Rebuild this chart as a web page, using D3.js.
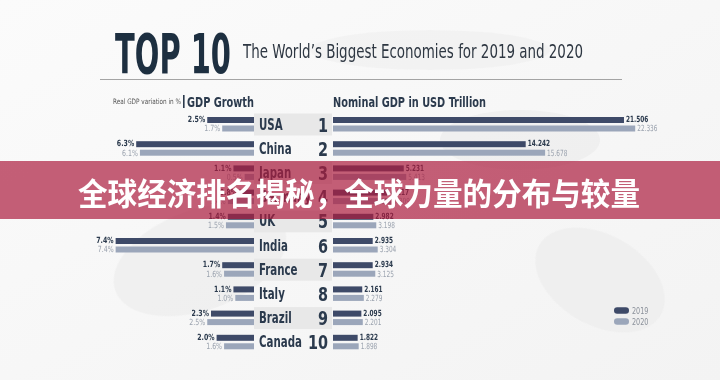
<!DOCTYPE html>
<html>
<head>
<meta charset="utf-8">
<script src="https://cdn.jsdelivr.net/npm/d3@7"></script>
<style>
  html, body { margin: 0; padding: 0; background: #fff; }
  svg { display: block; }
  .cond { font-family: 'Liberation Sans Narrow', 'DejaVu Sans Condensed', 'Roboto', sans-serif; font-stretch: condensed; }
</style>
</head>
<body>
<svg id="chart" width="720" height="380"></svg>
<script>
// data (Germany row is hidden under the banner, estimated)
const countries = ["USA", "China", "Japan", "Germany", "UK", "India", "France", "Italy", "Brazil", "Canada"];
const ranks = ["1", "2", "3", "4", "5", "6", "7", "8", "9", "10"];
const growth2019 = [2.5, 6.3, 1.1, 0.8, 1.4, 7.4, 1.7, 1.1, 2.3, 2.0];
const growth2020 = [1.7, 6.1, 0.5, 1.4, 1.5, 7.4, 1.6, 1.0, 2.5, 1.6];
const gdp2019 = [21.506, 14.242, 5.231, 4.117, 2.982, 2.935, 2.934, 2.161, 2.095, 1.822];
const gdp2020 = [22.336, 15.678, 5.413, 4.309, 3.198, 3.304, 3.125, 2.279, 2.201, 1.898];
const years = ["2019", "2020"];
const bannerText = "全球经济排名揭秘，全球力量的分布与较量";

const c2019 = "#3e4a68", c2020 = "#9ba6ba";

const svg = d3.select("#chart");

// the fonts here are wider than the original, squeeze text sideways
function squeeze(x, y, sx) {
    return (d, i) => `translate(${x(d, i)},${y(d, i)}) scale(${sx},1)`;
}

// background + faint map shapes
const bg = svg.append("defs").append("linearGradient").attr("id", "bg")
    .attr("x1", 0).attr("y1", 0).attr("x2", 1).attr("y2", 1);
bg.append("stop").attr("offset", "0%").attr("stop-color", "#fbfbfb");
bg.append("stop").attr("offset", "100%").attr("stop-color", "#f3f3f3");
svg.append("rect").attr("width", 720).attr("height", 380).attr("fill", "url(#bg)");

const blobs = svg.append("g").attr("fill", "#ebebeb").attr("opacity", 0.6);
blobs.append("ellipse").attr("cx", 200).attr("cy", 260).attr("rx", 90).attr("ry", 50).attr("transform", "rotate(-20 200 260)");
blobs.append("ellipse").attr("cx", 600).attr("cy", 280).attr("rx", 70).attr("ry", 45).attr("transform", "rotate(30 600 280)");
blobs.append("ellipse").attr("cx", 520).attr("cy", 140).attr("rx", 80).attr("ry", 30);
blobs.append("ellipse").attr("cx", 430).attr("cy", 50).attr("rx", 120).attr("ry", 20).attr("opacity", 0.6);

// title
svg.append("text").attr("class", "cond")
    .attr("x", 115).attr("y", 73)
    .attr("font-size", 55).attr("font-weight", 700)
    .attr("fill", "#1d2f40")
    .attr("textLength", 116).attr("lengthAdjust", "spacingAndGlyphs")
    .text("TOP 10");
svg.append("text").attr("class", "cond")
    .attr("x", 243).attr("y", 58)
    .attr("font-size", 19).attr("fill", "#2e3742")
    .attr("textLength", 340).attr("lengthAdjust", "spacingAndGlyphs")
    .text("The World’s Biggest Economies for 2019 and 2020");
svg.append("line")
    .attr("x1", 100).attr("x2", 622).attr("y1", 79.5).attr("y2", 79.5)
    .attr("stroke", "#a4a4a4").attr("stroke-width", 1);

// scales
const y = d3.scaleBand().domain(countries).range([112.4, 354.4]);
const xg = d3.scaleLinear().domain([0, 8]).range([254, 254 - 8 * 18.7]);
const xn = d3.scaleLinear().domain([0, 25]).range([333, 333 + 25 * 13.53]);
const mid = c => y(c) + y.bandwidth() / 2;

// headers
svg.append("text").attr("class", "cond")
    .attr("x", 113).attr("y", 104).attr("font-size", 7.5).attr("fill", "#555")
    .attr("textLength", 68).attr("lengthAdjust", "spacingAndGlyphs")
    .text("Real GDP variation in %");
svg.append("rect").attr("x", 183).attr("y", 95).attr("width", 1.6).attr("height", 13).attr("fill", "#2b3a4d");
svg.append("text").attr("class", "cond")
    .attr("x", 187).attr("y", 107).attr("font-size", 14).attr("font-weight", 700).attr("fill", "#2b3a4d")
    .attr("textLength", 67).attr("lengthAdjust", "spacingAndGlyphs")
    .text("GDP Growth");
svg.append("text").attr("class", "cond")
    .attr("x", 333).attr("y", 107).attr("font-size", 14).attr("font-weight", 700).attr("fill", "#2b3a4d")
    .attr("textLength", 153).attr("lengthAdjust", "spacingAndGlyphs")
    .text("Nominal GDP in USD Trillion");

// alternating label bands
svg.append("g").selectAll("rect")
    .data(countries.filter((d, i) => i % 2 === 0))
    .join("rect")
    .attr("x", 254).attr("y", d => mid(d) - 11)
    .attr("width", 78).attr("height", 22)
    .attr("fill", "#e8e8e8");

const rows = svg.append("g").selectAll("g")
    .data(countries)
    .join("g");

// growth bars (grow leftwards)
rows.append("rect")
    .attr("x", (d, i) => xg(growth2019[i])).attr("y", d => mid(d) - 7.5)
    .attr("width", (d, i) => xg(0) - xg(growth2019[i])).attr("height", 6)
    .attr("fill", c2019);
rows.append("rect")
    .attr("x", (d, i) => xg(growth2020[i])).attr("y", d => mid(d) + 1)
    .attr("width", (d, i) => xg(0) - xg(growth2020[i])).attr("height", 6)
    .attr("fill", c2020);
rows.append("text").attr("class", "cond")
    .attr("transform", squeeze((d, i) => xg(growth2019[i]) - 2, d => mid(d) - 2.3, 0.82))
    .attr("text-anchor", "end").attr("font-size", 8.5).attr("font-weight", 700).attr("fill", "#2b3a4d")
    .text((d, i) => growth2019[i].toFixed(1) + "%");
rows.append("text").attr("class", "cond")
    .attr("transform", squeeze((d, i) => xg(growth2020[i]) - 2, d => mid(d) + 6.8, 0.82))
    .attr("text-anchor", "end").attr("font-size", 8.5).attr("fill", "#9aa2ae")
    .text((d, i) => growth2020[i].toFixed(1) + "%");

// country names and ranks
rows.append("text").attr("class", "cond")
    .attr("transform", squeeze(() => 259, d => mid(d) + 5, 0.76))
    .attr("font-size", 15).attr("font-weight", 700).attr("fill", "#2b3a4d")
    .text(d => d);
rows.append("text").attr("class", "cond")
    .attr("transform", squeeze(() => 328, d => mid(d) + 7, 0.8))
    .attr("text-anchor", "end").attr("font-size", 20).attr("font-weight", 700).attr("fill", "#2b3a4d")
    .text((d, i) => ranks[i]);

// nominal GDP bars
rows.append("rect")
    .attr("x", xn(0)).attr("y", d => mid(d) - 7.5)
    .attr("width", (d, i) => xn(gdp2019[i]) - xn(0)).attr("height", 6)
    .attr("fill", c2019);
rows.append("rect")
    .attr("x", xn(0)).attr("y", d => mid(d) + 1)
    .attr("width", (d, i) => xn(gdp2020[i]) - xn(0)).attr("height", 6)
    .attr("fill", c2020);
rows.append("text").attr("class", "cond")
    .attr("transform", squeeze((d, i) => xn(gdp2019[i]) + 2, d => mid(d) - 2.3, 0.76))
    .attr("font-size", 8.5).attr("font-weight", 700).attr("fill", "#2b3a4d")
    .text((d, i) => gdp2019[i].toFixed(3));
rows.append("text").attr("class", "cond")
    .attr("transform", squeeze((d, i) => xn(gdp2020[i]) + 2, d => mid(d) + 6.8, 0.76))
    .attr("font-size", 8.5).attr("fill", "#9aa2ae")
    .text((d, i) => gdp2020[i].toFixed(3));

// legend
const legend = svg.append("g").selectAll("g").data(years).join("g")
    .attr("transform", (d, i) => `translate(614, ${310.5 + i * 11})`);
legend.append("rect")
    .attr("x", 0).attr("y", -3.2).attr("width", 15).attr("height", 6.4).attr("rx", 3.2)
    .attr("fill", (d, i) => i === 0 ? c2019 : c2020);
legend.append("text").attr("class", "cond")
    .attr("transform", "translate(18,3.2) scale(0.8,1)")
    .attr("font-size", 9).attr("fill", "#8a909a")
    .text(d => d);

// banner overlay
svg.append("rect")
    .attr("x", 0).attr("y", 161).attr("width", 720).attr("height", 58)
    .attr("fill", "rgb(172,28,62)").attr("opacity", 0.7);
svg.append("text")
    .attr("x", 359).attr("y", 191)
    .attr("text-anchor", "middle").attr("dominant-baseline", "central")
    .attr("font-family", "'Noto Sans CJK SC', sans-serif")
    .attr("font-size", 31).attr("font-weight", 700).attr("fill", "#fff")
    .attr("textLength", 562).attr("lengthAdjust", "spacingAndGlyphs")
    .text(bannerText);
</script>
</body>
</html>
